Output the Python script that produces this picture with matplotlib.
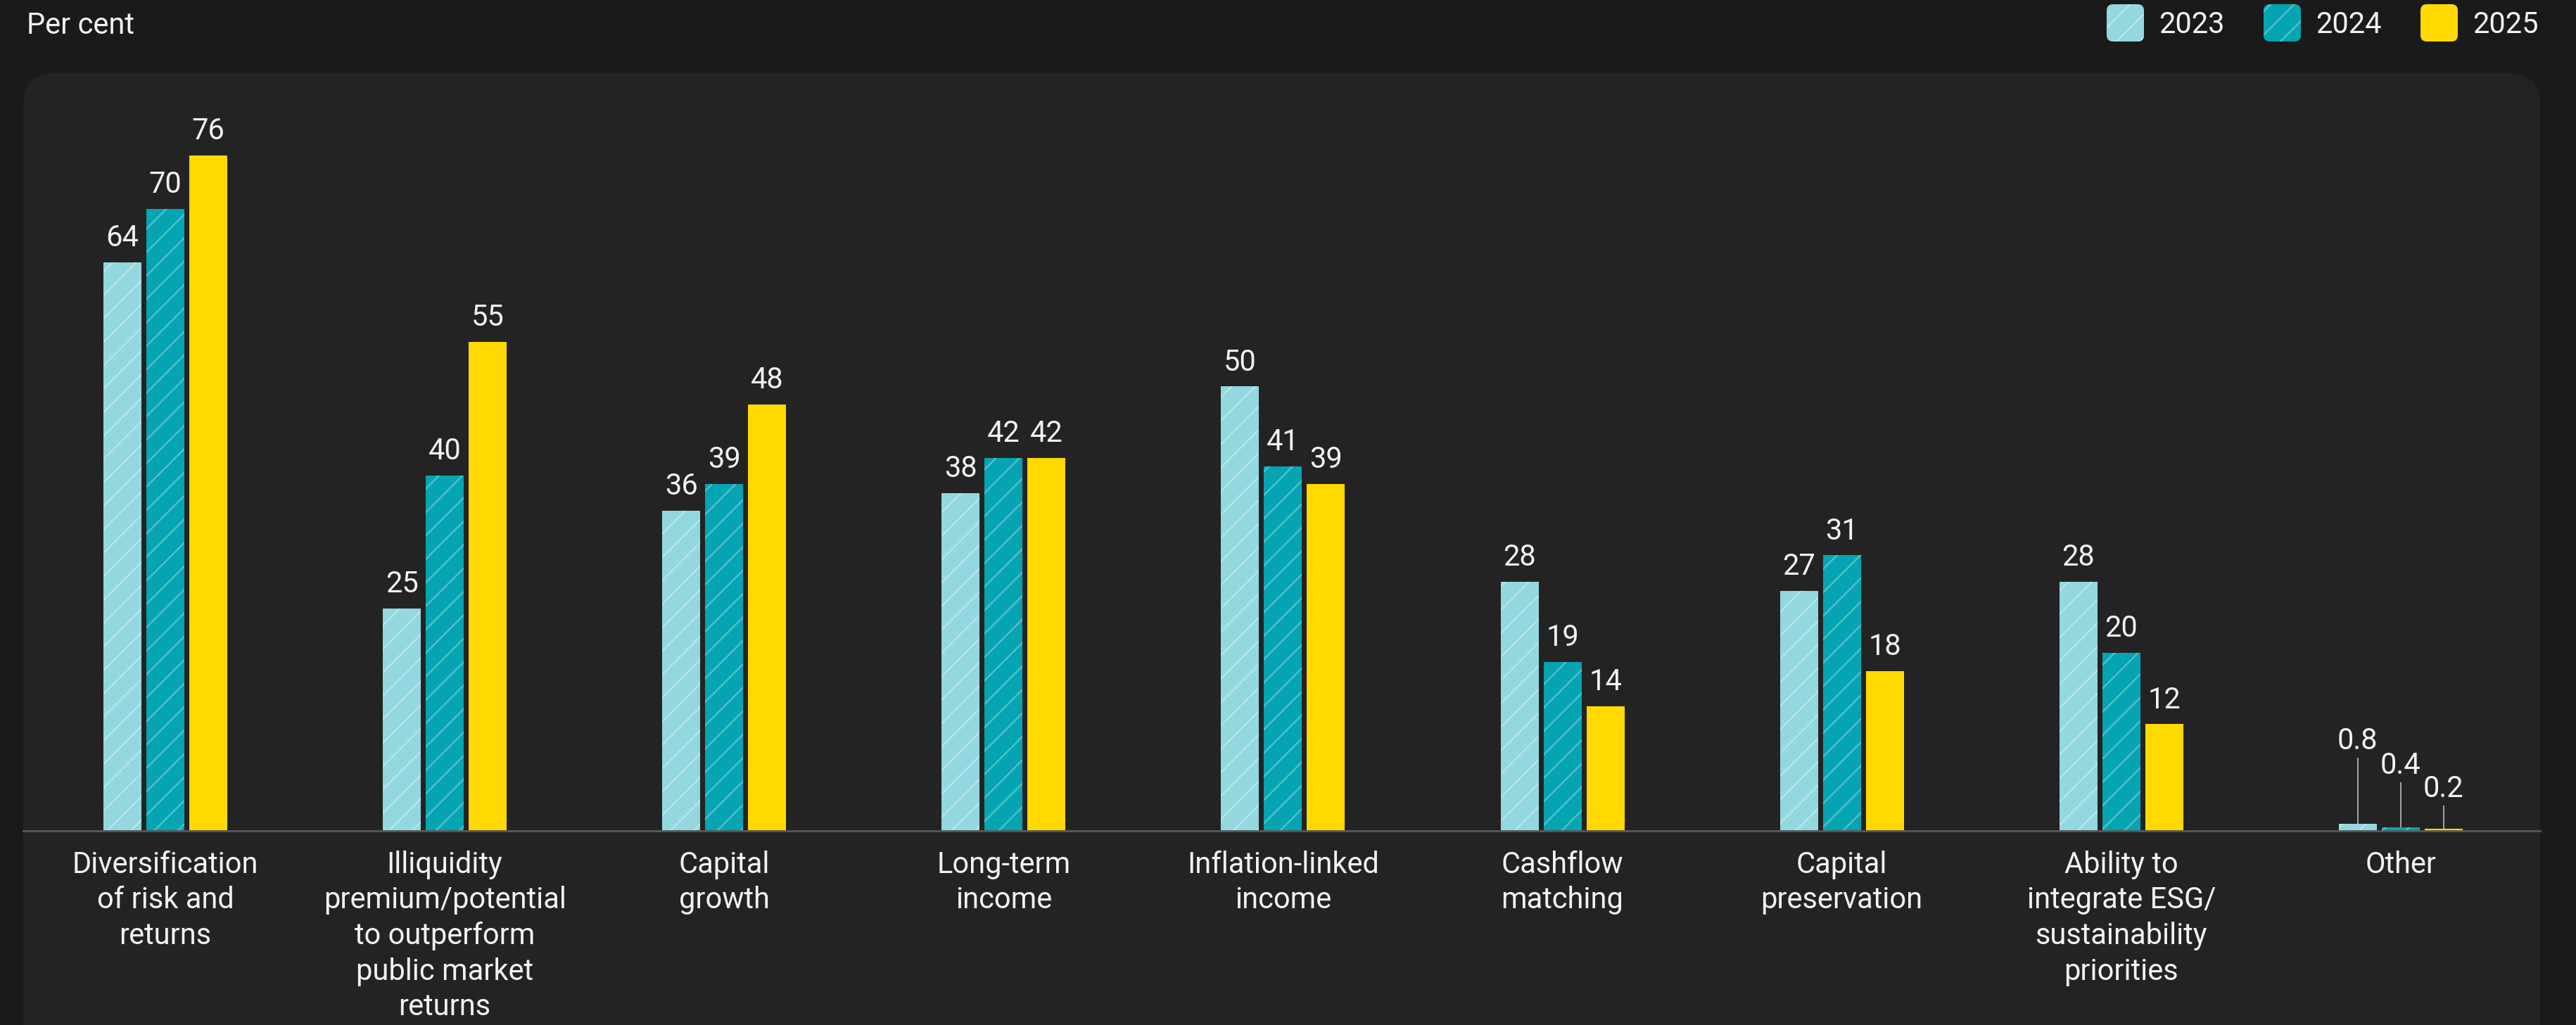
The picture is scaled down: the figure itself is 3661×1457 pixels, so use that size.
import matplotlib
matplotlib.use("Agg")
import matplotlib.pyplot as plt
import numpy as np
from matplotlib.patches import FancyBboxPatch
from matplotlib.transforms import IdentityTransform

plt.rcParams['font.family'] = ['Roboto', 'DejaVu Sans']
plt.rcParams['hatch.linewidth'] = 1.8

# ---- data -------------------------------------------------------------
categories = [
    "Diversification\nof risk and\nreturns",
    "Illiquidity\npremium/potential\nto outperform\npublic market\nreturns",
    "Capital\ngrowth",
    "Long-term\nincome",
    "Inflation-linked\nincome",
    "Cashflow\nmatching",
    "Capital\npreservation",
    "Ability to\nintegrate ESG/\nsustainability\npriorities",
    "Other",
]
years = ["2023", "2024", "2025"]
values_2023 = [64, 25, 36, 38, 50, 28, 27, 28, 0.8]
values_2024 = [70, 40, 39, 42, 41, 19, 31, 20, 0.4]
values_2025 = [76, 55, 48, 42, 39, 14, 18, 12, 0.2]

# ---- style ------------------------------------------------------------
W, H, DPI = 3662, 1457, 100
BG = "#1a1a1a"
PANEL = "#232323"
TEXT = "#f2f2f2"
fills = ["#93d8de", "#05a4b2", "#ffd900"]
hatch_cols = ["#b6e5ea", "#4ec0c9", "#ffd900"]
hatches = ["/", "/", None]
FS = 30

fig = plt.figure(figsize=(W / DPI, H / DPI), dpi=DPI)
fig.patch.set_facecolor(BG)

# rounded chart panel (pixel coordinates)
panel = FancyBboxPatch((33, -200), 3610 - 33, (H - 104) + 200,
                       boxstyle="round,pad=0,rounding_size=45",
                       transform=IdentityTransform(), facecolor=PANEL,
                       edgecolor="none", zorder=-5)
fig.patches.append(panel)

base_y, top_y = 1181, 104
ax = fig.add_axes([33 / W, (H - base_y) / H, (3610 - 33) / W, (base_y - top_y) / H])
ax.set_zorder(1)
ax.set_facecolor("none")
ax.set_xlim(-0.5087, 8.499)
ax.set_ylim(0, 85.27)

series = [values_2023, values_2024, values_2025]
x = np.arange(len(categories))
step = 0.1536
width = 0.136

small_label_lift = [9.2, 6.4, 3.8]  # staggered heights for tiny values

for i, vals in enumerate(series):
    xs = x + (i - 1) * step
    ax.bar(xs, vals, width=width, color=fills[i], edgecolor=hatch_cols[i],
           linewidth=0, hatch=hatches[i], zorder=2)
    for xi, v in zip(xs, vals):
        label = f"{v:g}"
        if v < 2:
            ly = small_label_lift[i]
            ax.text(xi, ly, label, ha="center", va="baseline", fontsize=FS,
                    color=TEXT, zorder=3)
            ax.plot([xi, xi], [v, ly - 0.95], color="#b0b0b0", lw=1.3,
                    zorder=3, solid_capstyle="butt")
        else:
            ax.annotate(label, (xi, v), xytext=(0, 16.5),
                        textcoords="offset points", ha="center",
                        va="baseline", fontsize=FS, color=TEXT, zorder=3)

for side in ["top", "right", "left"]:
    ax.spines[side].set_visible(False)
ax.spines["bottom"].set_color("#585858")
ax.spines["bottom"].set_linewidth(2.0)
ax.spines["bottom"].set_zorder(4)
ax.set_yticks([])
ax.set_xticks(x)
ax.set_xticklabels(categories, fontsize=FS, color=TEXT, linespacing=1.3)
ax.tick_params(axis="x", length=0, pad=20)

# ---- header: unit label and legend -----------------------------------
fig.text(38 / W, (H - 48) / H, "Per cent", fontsize=FS, color=TEXT,
         ha="left", va="baseline")

legend_x = [2994, 3217, 3440]
box = 53
for i, yr in enumerate(years):
    p = FancyBboxPatch((legend_x[i], H - 59), box, box,
                       boxstyle="round,pad=0,rounding_size=9",
                       transform=IdentityTransform(), facecolor=fills[i],
                       edgecolor=hatch_cols[i], linewidth=0,
                       hatch=hatches[i], zorder=2)
    fig.patches.append(p)
    fig.text((legend_x[i] + 74) / W, (H - 47) / H, yr, fontsize=FS,
             color=TEXT, ha="left", va="baseline")

fig.savefig("out.png", dpi=DPI, facecolor=BG)
